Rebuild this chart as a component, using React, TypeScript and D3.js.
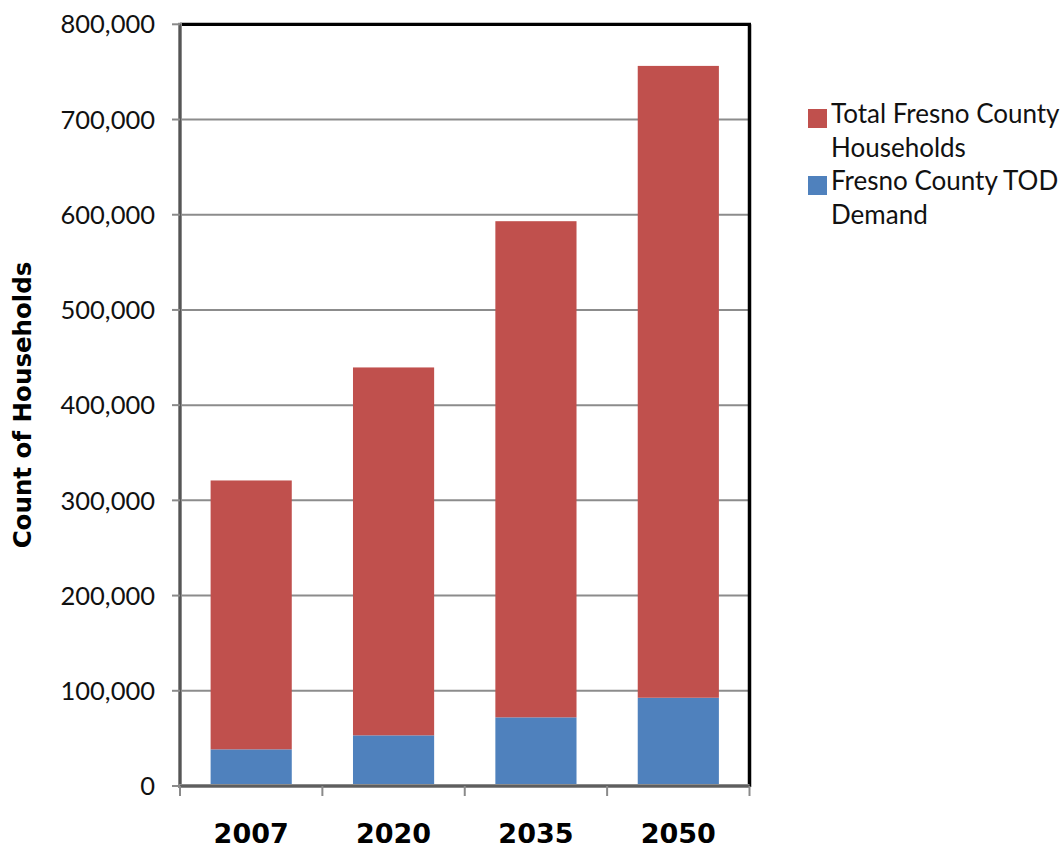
import React from "react";
import * as d3 from "d3";

const categories = ["2007", "2020", "2035", "2050"];
const todDemand = [38500, 53200, 72100, 92700];
const otherHouseholds = [282400, 386400, 521100, 663600];
const yTicks = [0, 100000, 200000, 300000, 400000, 500000, 600000, 700000, 800000];
const seriesNames = ["Total Fresno County Households", "Fresno County TOD Demand"];
const legendLines = [["Total Fresno County", "Households"], ["Fresno County TOD", "Demand"]];
const colors = ["#C0504D", "#4F81BD"];

const W = 1063;
const H = 848;
const left = 180;
const right = 749.5;
const top = 24.3;
const bottom = 786;

export default function App() {
  const x = d3.scaleBand<string>().domain(categories).range([left, right]).paddingInner(0.43).paddingOuter(0.215);
  const y = d3.scaleLinear().domain([0, 800000]).range([bottom, top]);
  const rows = categories.map((c, i) => ({ cat: c, tod: todDemand[i], other: otherHouseholds[i] }));
  const stack = d3.stack<any>().keys(["tod", "other"])(rows);
  const fmt = d3.format(",");
  const step = x.step();
  const bounds = categories.map((_, i) => left + i * step).concat([right]);
  const regular = "Lato, 'Open Sans', sans-serif";
  const bold = "'DejaVu Sans', sans-serif";
  return (
    <svg width={W} height={H} style={{ position: "absolute", left: 0, top: 0, background: "#fff" }}>
      <rect x={0} y={0} width={W} height={H} fill="#fff" />
      {yTicks.filter((t) => t > 0 && t < 800000).map((t) => (
        <line key={"g" + t} x1={left} x2={right} y1={y(t)} y2={y(t)} stroke="#8c8c8c" strokeWidth={2} />
      ))}
      {stack.map((s, si) => (
        <g key={s.key} fill={si === 0 ? colors[1] : colors[0]}>
          {s.map((d, i) => (
            <rect key={i} x={x(categories[i])} width={x.bandwidth()} y={y(d[1])} height={y(d[0]) - y(d[1])} />
          ))}
        </g>
      ))}
      {/* frame top/right */}
      <line x1={left} x2={right + 1.5} y1={top} y2={top} stroke="#000" strokeWidth={3.2} />
      <line x1={right} x2={right} y1={top} y2={bottom + 1} stroke="#000" strokeWidth={3.5} />
      {/* axes */}
      <line x1={left} x2={left} y1={top - 1.5} y2={bottom + 2} stroke="#8a8a8a" strokeWidth={4} />
      <line x1={left} x2={left} y1={top} y2={bottom} stroke="#333" strokeWidth={1.2} />
      <line x1={left - 2} x2={right} y1={bottom} y2={bottom} stroke="#8a8a8a" strokeWidth={4} />
      <line x1={left} x2={right} y1={bottom} y2={bottom} stroke="#333" strokeWidth={1.2} />
      {yTicks.map((t) => (
        <line key={"t" + t} x1={left - 8} x2={left} y1={y(t)} y2={y(t)} stroke="#8a8a8a" strokeWidth={2} />
      ))}
      {bounds.map((b, i) => (
        <line key={"xb" + i} x1={b} x2={b} y1={bottom} y2={bottom + 10} stroke="#8a8a8a" strokeWidth={2} />
      ))}
      {yTicks.map((t) => (
        <text key={"l" + t} x={155} y={y(t)} dy="0.36em" textAnchor="end" fontFamily={regular} fontSize={25.5} fill="#111">
          {fmt(t)}
        </text>
      ))}
      {categories.map((c) => (
        <text key={"c" + c} x={(x(c) as number) + x.bandwidth() / 2} y={843} textAnchor="middle" fontFamily={bold} fontWeight="bold" fontSize={27} fill="#000">
          {c}
        </text>
      ))}
      <text transform={`translate(31,405) rotate(-90)`} textAnchor="middle" fontFamily={bold} fontWeight="bold" fontSize={24.5} fill="#000">
        Count of Households
      </text>
      {seriesNames.map((n, i) => (
        <g key={n}>
          <rect x={808} y={109 + i * 67} width={19} height={19} fill={colors[i]} />
          {legendLines[i].map((ln, j) => (
            <text key={j} x={831} y={123 + i * 67 + j * 33.5} fontFamily={regular} fontSize={26} fill="#111">
              {ln}
            </text>
          ))}
        </g>
      ))}
    </svg>
  );
}
